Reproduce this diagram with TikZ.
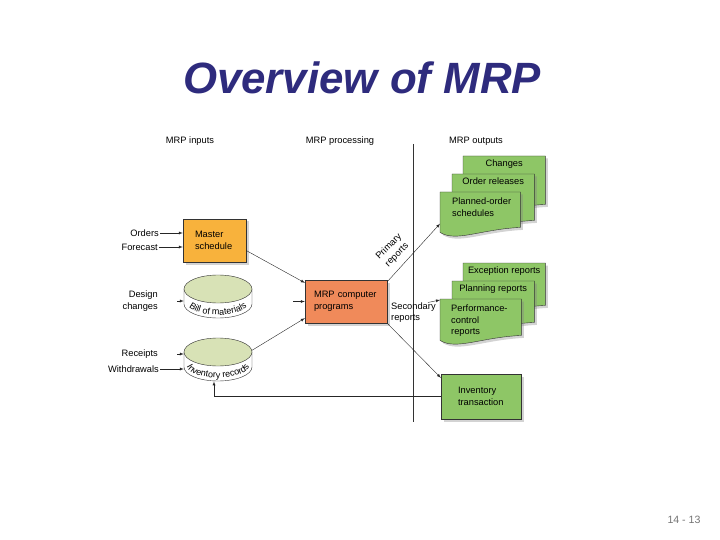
\documentclass[tikz,border=0pt]{standalone}
\usepackage{fontspec}
\setmainfont{Liberation Sans}
\usetikzlibrary{shadows,decorations.text,positioning}
\definecolor{titleblue}{RGB}{46,43,125}
\definecolor{msorange}{RGB}{248,178,60}
\definecolor{mrporange}{RGB}{240,138,90}
\definecolor{outgreen}{RGB}{142,198,102}
\definecolor{diskgreen}{RGB}{216,226,182}
\newcommand{\lblfont}{\fontsize{9.3}{11.5}\selectfont}
\newcommand{\diskfont}{\fontsize{9}{9}\selectfont}
% output sheet with wavy lower edge
\newcommand{\sheet}[5]{%
  \node[sheetframe, minimum width=#4pt, minimum height=#5pt, anchor=north west] (#1) at (#2,#3) {};
  \filldraw[sheetfill] (#1.north west) -- (#1.north east) -- (#1.south east)
    .. controls ([yshift=-2pt]#1.south) and ([xshift=16pt,yshift=-15pt]#1.south west) .. ([yshift=-5pt]#1.south west) -- cycle;
}
% database disk with its label round the side
\newcommand{\disk}[4]{%
  \filldraw[diskline, fill=white] (#2-34,#3) -- (#2-34,#3+15) arc[start angle=180, end angle=0, x radius=34, y radius=14] -- (#2+34,#3) -- cycle;
  \filldraw[diskline, fill=diskgreen] (#2,#3) ellipse[x radius=34, y radius=14];
  \path[decorate, decoration={text along path, text align=center, text={|\diskfont|#4}}]
    (#2,#3+13) ++(166:31.5 and 13) arc[start angle=166, end angle=14, x radius=31.5, y radius=13];
  \node[inner sep=0pt, minimum width=68pt, minimum height=43pt, anchor=north] (#1) at (#2,#3-14) {};
}
\begin{document}
\begin{tikzpicture}[x=1pt, y=-1pt,
  lbl/.style={font=\lblfont, inner sep=1pt},
  box/.style={draw=black!80, line width=0.4pt, font=\lblfont, align=left, minimum height=43pt,
    drop shadow={shadow xshift=2.5pt, shadow yshift=-2.5pt, opacity=.35}},
  sheetframe/.style={inner sep=0pt, draw=none},
  sheetfill/.style={draw=black!80, line width=0.4pt, fill=outgreen,
    drop shadow={shadow xshift=2.5pt, shadow yshift=-2.5pt, opacity=.35}},
  diskline/.style={draw=black!80, line width=0.4pt},
  conn/.style={-latex, draw=black!85, line width=0.4pt}]
  \useasboundingbox (0,0) rectangle (720,540);

  \node[font=\fontsize{43.8}{50}\selectfont\bfseries\itshape, text=titleblue] (title) at (362,78) {Overview of MRP};

  \node[lbl] (hin) at (190,141) {MRP inputs};
  \node[lbl] (hproc) at (340,141) {MRP processing};
  \node[lbl] (hout) at (476,141) {MRP outputs};
  \draw[black!80, line width=0.4pt] (413,144) -- (413,422);

  \node[box, fill=msorange, text width=39pt, inner xsep=12pt] (master) at (214.5,240.5) {Master\\schedule};
  \node[box, fill=mrporange, text width=64pt, inner xsep=9pt] (mrp) at (346,301.5) {MRP computer\\programs};
  \node[box, fill=outgreen, text width=46pt, inner xsep=17pt, minimum height=45pt] (invtrans) at (481,396.5) {Inventory\\transaction};

  \disk{bill}{218}{289}{Bill of materials}
  \disk{invrec}{218}{352}{Inventory records}

  \sheet{chg}{463}{156}{82}{48}
  \node[lbl, anchor=north] (chgtxt) at ([yshift=-3pt]chg.north) {Changes};
  \sheet{rel}{452}{174}{82}{46}
  \node[lbl, anchor=north] (reltxt) at ([yshift=-3pt]rel.north) {Order releases};
  \sheet{plan}{440}{192}{80}{35}
  \node[lbl, anchor=north west, align=left] (plantxt) at ([xshift=11pt,yshift=-5pt]plan.north west) {Planned-order\\schedules};

  \sheet{exc}{463}{263}{82}{42}
  \node[lbl, anchor=north] (exctxt) at ([yshift=-3pt]exc.north) {Exception reports};
  \sheet{pln}{452}{281}{82}{41}
  \node[lbl, anchor=north] (plntxt) at ([yshift=-3pt]pln.north) {Planning reports};
  \sheet{perf}{440}{299}{81}{36}
  \node[lbl, anchor=north west, align=left] (perftxt) at ([xshift=10pt,yshift=-5pt]perf.north west) {Performance-\\control\\reports};

  \node[lbl, anchor=east] (orders) at (160,233) {Orders};
  \node[lbl, anchor=east] (forecast) at (159,247) {Forecast};
  \node[lbl, anchor=east, align=right] (design) at (159,301) {Design\\changes};
  \node[lbl, anchor=east] (receipts) at (159,354) {Receipts};
  \node[lbl, anchor=east] (withdraw) at (160,369) {Withdrawals};

  \node[lbl, rotate=45, align=center] (primary) at (393,251) {Primary\\reports};
  \node[lbl, anchor=north west, align=left, inner sep=0pt] (second) at (391,302.5) {Secondary\\reports};

  \draw[conn] (orders.east) -- (orders -| master.west);
  \draw[conn] (forecast.east) -- (forecast -| master.west);
  \draw[conn, shorten <=18pt] (design.east) -- (design -| bill.west);
  \draw[conn, shorten <=18pt] (receipts.east) -- (receipts -| invrec.west);
  \draw[conn] (withdraw.east) -- (withdraw -| invrec.west);

  \draw[conn] ([yshift=-10pt]master.east) -- ([yshift=-3pt]mrp.north west);
  \draw[conn, shorten <=41pt] (bill.east |- mrp.west) -- (mrp.west);
  \draw[conn] ([yshift=9.5pt]invrec.east) -- ([yshift=5pt]mrp.south west);

  \draw[conn] ([yshift=-2pt]mrp.north east) -- ([yshift=-14pt]plan.west);
  \draw[conn] ([xshift=-8pt]second.north east) -- ([yshift=-1pt]perf.north west);
  \draw[conn] (mrp.south east) -- ([yshift=-4pt]invtrans.north west);
  \draw[conn] (invtrans.west) -| ([xshift=-4pt]invrec.south);

  \node[font=\fontsize{10.6}{12}\selectfont, text=black!55] (pgnum) at (684,520) {14 - 13};
\end{tikzpicture}
\end{document}
